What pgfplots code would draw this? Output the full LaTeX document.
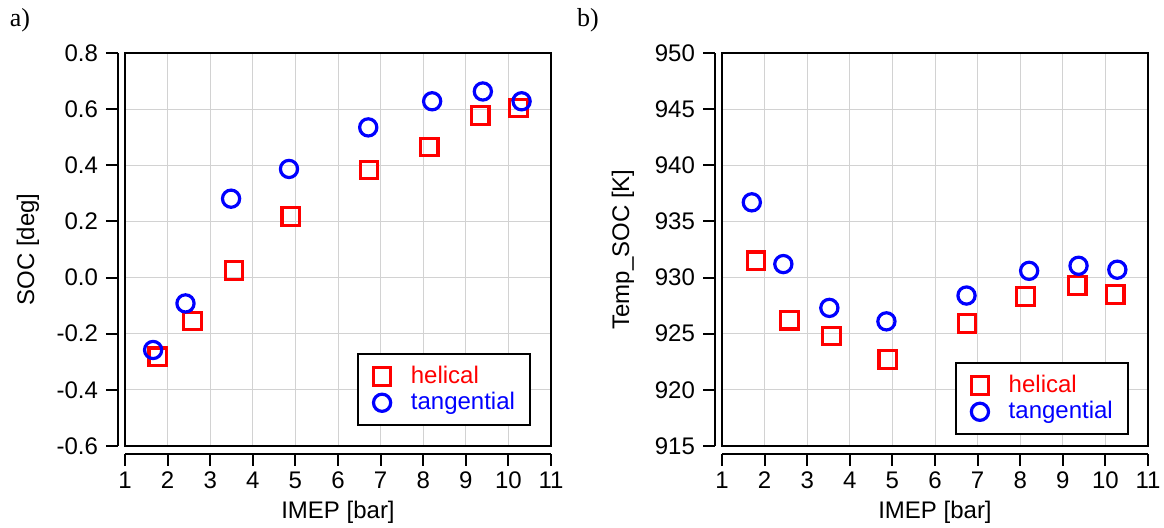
\documentclass[border=0pt]{standalone}
\usepackage{fontspec}
\setmainfont{Liberation Sans}
\newfontfamily\serif{Liberation Serif}
\usepackage{pgfplots}
\pgfplotsset{compat=1.18}

\pgfplotstableread{
x y
1.77 -0.282
2.58 -0.155
3.56 0.025
4.89 0.218
6.73 0.383
8.14 0.465
9.34 0.577
10.24 0.604
}\socH
\pgfplotstableread{
x y
1.66 -0.258
2.42 -0.092
3.49 0.281
4.85 0.387
6.71 0.535
8.21 0.628
9.40 0.663
10.31 0.628
}\socT
\pgfplotstableread{
x y
1.80 931.5
2.58 926.2
3.57 924.8
4.89 922.7
6.75 925.9
8.12 928.3
9.34 929.3
10.23 928.5
}\tempH
\pgfplotstableread{
x y
1.70 936.7
2.44 931.2
3.52 927.3
4.86 926.1
6.74 928.4
8.21 930.6
9.37 931.05
10.28 930.7
}\tempT

\pgfplotsset{
  igor/.style={
    scale only axis, width=213pt, height=196.5pt,
    axis x line*=bottom, axis y line*=left,
    axis x line shift=4pt, axis y line shift=3.5pt,
    axis line style={line width=1pt, -},
    tick align=outside, major tick length=6pt,
    every tick/.style={line width=1pt, black},
    xmin=1, xmax=11, xtick={1,...,11},
    grid=major, major grid style={gray!35, line width=0.5pt},
    font=\fontsize{12}{14}\selectfont,
    ticklabel style={font=\fontsize{12}{14}\selectfont},
    /pgf/number format/assume math mode=true,
    xticklabel style={yshift=0.5pt},
    yticklabel style={xshift=-0.5pt},
    xlabel={IMEP [bar]},
    xlabel style={at={(rel axis cs:0.5,-0.168)}, anchor=center},
    clip=false,
    legend cell align=left,
    legend style={draw=black, line width=1pt, font=\fontsize{12}{14}\selectfont,
      inner xsep=5.5pt, inner ysep=4pt, row sep=-1pt},
    legend image code/.code={\path (-5.5pt,0pt); \draw[#1] plot coordinates {(0pt,0pt)};},
    every axis plot/.append style={only marks, line width=1.6pt},
  },
  hel/.style={red, mark=square, mark size=4.4pt},
  tan/.style={blue, mark=o, mark size=4.3pt},
}

\begin{document}
\begin{tikzpicture}
\useasboundingbox (0,-41pt) rectangle (582pt,223pt);
\begin{axis}[igor, name=A, at={(62.5pt,0)}, anchor=south west,
  ymin=-0.6, ymax=0.8, ytick={-0.6,-0.4,...,0.8},
  yticklabel style={/pgf/number format/fixed, /pgf/number format/fixed zerofill, /pgf/number format/precision=1},
  ylabel={SOC [deg]},
  ylabel style={at={(rel axis cs:-0.2277,0.5)}, anchor=center},
  legend style={at={(rel axis cs:0.953,0.051)}, anchor=south east}]
\addplot+[hel] table[x=x,y=y] {\socH};
\addlegendentry{\hspace{8pt}\textcolor{red}{helical}}
\addplot+[tan] table[x=x,y=y] {\socT};
\addlegendentry{\hspace{8pt}\textcolor{blue}{tangential}}
\draw[line width=1.2pt] (rel axis cs:0,0) rectangle (rel axis cs:1,1);
\end{axis}
\node[font=\serif\fontsize{13}{15}\selectfont, anchor=center] at (10pt,213pt) {a)};

\begin{axis}[igor, name=B, at={(361pt,0)}, anchor=south west,
  ymin=915, ymax=950, ytick={915,920,...,950},
  ylabel={Temp\_SOC [K]},
  ylabel style={at={(rel axis cs:-0.2324,0.5)}, anchor=center},
  legend style={at={(rel axis cs:0.955,0.028)}, anchor=south east}]
\addplot+[hel] table[x=x,y=y] {\tempH};
\addlegendentry{\hspace{8pt}\textcolor{red}{helical}}
\addplot+[tan] table[x=x,y=y] {\tempT};
\addlegendentry{\hspace{8pt}\textcolor{blue}{tangential}}
\draw[line width=1.2pt] (rel axis cs:0,0) rectangle (rel axis cs:1,1);
\end{axis}
\node[font=\serif\fontsize{13}{15}\selectfont, anchor=center] at (294pt,213pt) {b)};
\end{tikzpicture}
\end{document}
